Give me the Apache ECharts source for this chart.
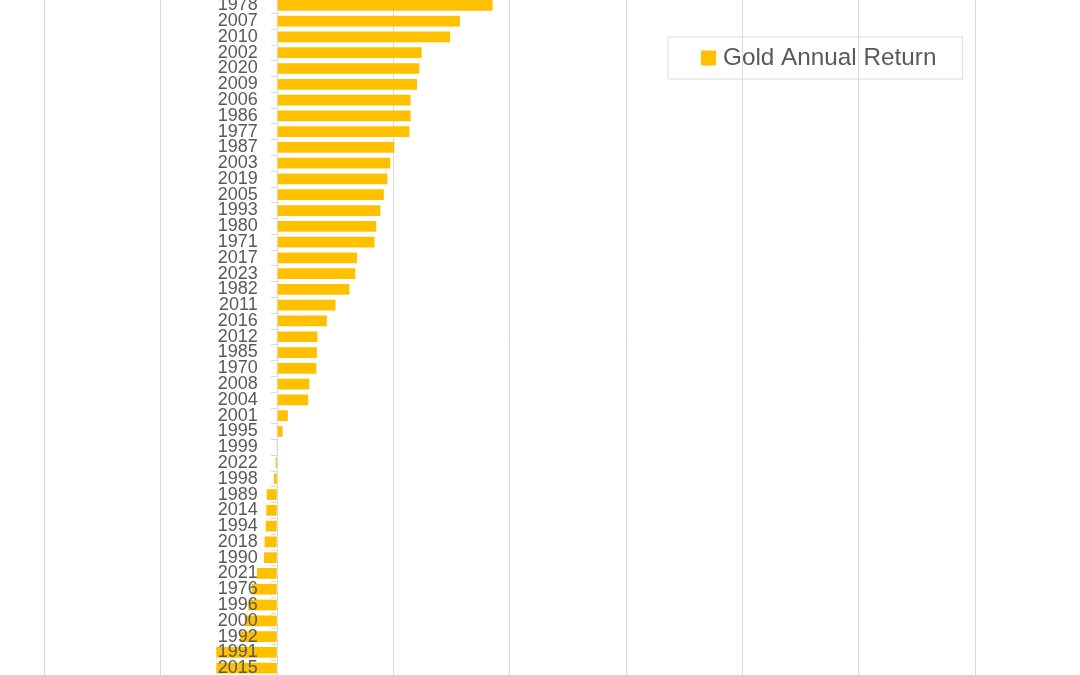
<!DOCTYPE html>
<html>
<head>
<meta charset="utf-8">
<script src="https://cdn.jsdelivr.net/npm/echarts@6/dist/echarts.min.js"></script>
<style>html,body{margin:0;padding:0;background:#fff;}#c{width:1080px;height:675px;}</style>
</head>
<body>
<div id="c"></div>
<script>
const years = ['1978','2007','2010','2002','2020','2009','2006','1986','1977','1987','2003','2019','2005','1993','1980','1971','2017','2023','1982','2011','2016','2012','1985','1970','2008','2004','2001','1995','1999','2022','1998','1989','2014','1994','2018','1990','2021','1976','1996','2000','1992','1991','2015'];
const goldReturn = [37.1,31.5,29.8,24.9,24.5,24.1,23.0,23.0,22.8,20.2,19.5,19.0,18.4,17.8,17.1,16.8,13.8,13.5,12.5,10.1,8.6,7.0,6.9,6.8,5.6,5.4,1.9,1.0,0.2,-0.2,-0.5,-1.7,-1.8,-1.9,-2.1,-2.2,-3.4,-4.3,-4.9,-5.5,-6.3,-10.4,-10.4];
const seriesName = 'Gold Annual Return';
const xMin = -40, xMax = 140, xStep = 20;

const gridLeft = 44, gridWidth = 1047.4;
const zeroOffset = (0 - xMin) / (xMax - xMin) * gridWidth;

const chart = echarts.init(document.getElementById('c'), null, {renderer:'canvas'});
chart.setOption({
  animation: false,
  backgroundColor: '#ffffff',
  legend: {
    show: true,
    left: 668, top: 37,
    padding: [9, 26, 9, 33],
    borderColor: '#d9d9d9', borderWidth: 1,
    icon: 'rect', itemWidth: 15, itemHeight: 15,
    textStyle: {fontFamily: 'Liberation Sans', fontSize: 24.3, lineHeight: 24, color: '#595959', padding: [0, 0, 0, 2]},
    data: [seriesName]
  },
  grid: {left: gridLeft, width: gridWidth, top: -2.5, bottom: -1, containLabel: false, outerBoundsMode: 'none'},
  xAxis: {
    type: 'value', min: xMin, max: xMax, interval: xStep,
    axisLabel: {show: false}, axisLine: {show: false}, axisTick: {show: false},
    splitLine: {show: true, lineStyle: {color: '#d9d9d9', width: 1}}
  },
  yAxis: {
    type: 'category', data: years, inverse: true, z: 5,
    position: 'left', offset: -zeroOffset,
    axisLine: {show: true, onZero: false, lineStyle: {color: '#d9d9d9', width: 1}},
    axisTick: {show: true, length: 6, alignWithLabel: false, lineStyle: {color: '#d9d9d9'}},
    axisLabel: {fontFamily: 'Liberation Sans', fontSize: 18, color: '#595959', margin: 19, interval: 0, padding: [2, 0, 0, 0]}
  },
  series: [{
    name: seriesName, type: 'bar', data: goldReturn,
    barCategoryGap: '32%',
    itemStyle: {color: '#FFC000'}
  }]
});
</script>
</body>
</html>
